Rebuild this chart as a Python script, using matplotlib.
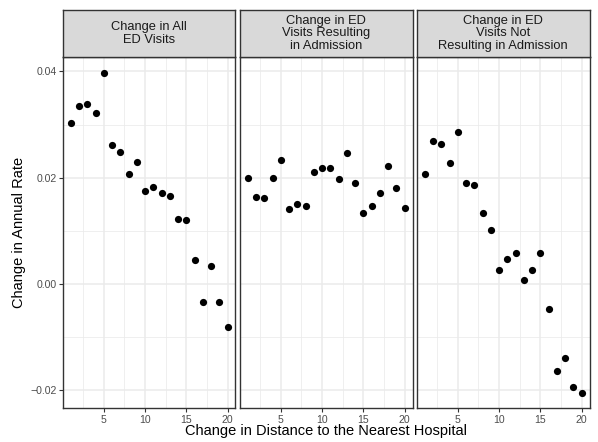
import matplotlib
matplotlib.use("Agg")
import matplotlib.pyplot as plt
import numpy as np

plt.rcParams['font.family'] = ['Liberation Sans', 'DejaVu Sans']

distance = list(range(1, 21))
all_visits = [0.0303, 0.0334, 0.0339, 0.0322, 0.0397, 0.0261, 0.0249, 0.0207, 0.0230, 0.0175,
              0.0182, 0.0171, 0.0165, 0.0123, 0.0121, 0.0045, -0.0035, 0.0033, -0.0034, -0.0082]
admit_visits = [0.0199, 0.0164, 0.0161, 0.0199, 0.0234, 0.0141, 0.0151, 0.0147, 0.0211, 0.0218,
                0.0218, 0.0198, 0.0247, 0.0189, 0.0134, 0.0147, 0.0171, 0.0221, 0.0181, 0.0142]
nonadmit_visits = [0.0206, 0.0269, 0.0264, 0.0228, 0.0285, 0.0189, 0.0186, 0.0134, 0.0101, 0.0027,
                   0.0047, 0.0059, 0.0008, 0.0026, 0.0058, -0.0047, -0.0164, -0.0139, -0.0194, -0.0206]
panel_titles = ["Change in All\nED Visits",
                "Change in ED\nVisits Resulting\nin Admission",
                "Change in ED\nVisits Not\nResulting in Admission"]
series = [all_visits, admit_visits, nonadmit_visits]
x_ticks = [5, 10, 15, 20]
y_ticks = [-0.02, 0.00, 0.02, 0.04]
y_tick_labels = ["\u22120.02", "0.00", "0.02", "0.04"]

W, H = 598, 442
fig = plt.figure(figsize=(W / 100, H / 100), dpi=100)

panel_lefts = [63, 240, 417]
panel_w = 172.5
top_strip = 10
strip_bot = 56.7
panel_bot = 408.3

border_col = '#333333'
for i, (left, vals, title) in enumerate(zip(panel_lefts, series, panel_titles)):
    ax = fig.add_axes([left / W, 1 - panel_bot / H, panel_w / W, (panel_bot - strip_bot) / H])
    ax.set_xlim(0.05, 20.95)
    ax.set_ylim(-0.02343, 0.04277)
    ax.set_xticks(x_ticks)
    ax.set_xticks([2.5, 7.5, 12.5, 17.5], minor=True)
    ax.set_yticks(y_ticks)
    ax.set_yticks([-0.01, 0.01, 0.03], minor=True)
    ax.grid(True, which='major', color='#EBEBEB', linewidth=1.1)
    ax.grid(True, which='minor', color='#EBEBEB', linewidth=0.55)
    ax.set_axisbelow(True)
    ax.tick_params(which='minor', length=0)
    ax.tick_params(which='major', length=2.7, width=0.8, color='#333333',
                   labelsize=7.6, labelcolor='#4D4D4D', pad=1.8)
    if i == 0:
        ax.set_yticklabels(y_tick_labels)
    else:
        ax.tick_params(axis='y', which='major', left=False, labelleft=False)
    for s in ax.spines.values():
        s.set_color(border_col)
        s.set_linewidth(1.0)
    ax.scatter(distance, vals, s=27, color='black', zorder=3, linewidths=0)

    sax = fig.add_axes([left / W, 1 - strip_bot / H, panel_w / W, (strip_bot - top_strip) / H])
    sax.set_facecolor('#D9D9D9')
    sax.set_xticks([])
    sax.set_yticks([])
    for s in sax.spines.values():
        s.set_color(border_col)
        s.set_linewidth(1.0)
    sax.text(0.5, 0.5, title, ha='center', va='center', fontsize=9.3, color='#1A1A1A',
             transform=sax.transAxes, linespacing=1.08)

fig.text((63 + 589) / 2 / W, 1 - 431 / H, "Change in Distance to the Nearest Hospital",
         ha='center', va='center', fontsize=10.5)
fig.text(19 / W, 1 - 232 / H, "Change in Annual Rate", ha='center', va='center',
         fontsize=10.5, rotation=90)

fig.savefig("out.png", dpi=100)
